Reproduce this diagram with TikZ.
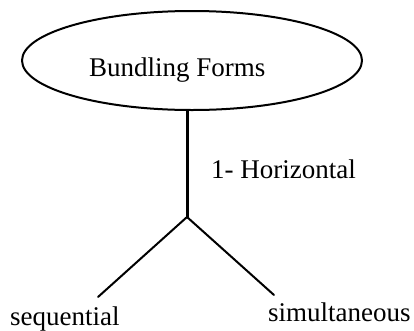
\documentclass[tikz,border=0pt]{standalone}
\usepackage{fontspec}
\setmainfont{Liberation Serif}
\usepackage{tikz}
\usetikzlibrary{shapes.geometric,positioning}
\tikzset{
  formtext/.style={font=\fontsize{27}{32}\selectfont,inner sep=0pt,anchor=base west},
  formline/.style={line width=2pt},
}

\begin{document}
\begin{tikzpicture}[x=1pt,y=-1pt,line cap=round,line join=round]
 \useasboundingbox (0,0) rectangle (414,330);
 \node[ellipse,draw,formline,minimum width=340pt,minimum height=99pt,inner sep=0pt]
  (root) at (192,60.5) {};
 \node[formtext] (rootlabel) at (89,76) {Bundling Forms};
 \coordinate (fork) at (187,217);
 \coordinate (seqend) at (98,297);
 \coordinate (simend) at (274,295);
 \draw[line width=3pt] (root.south -| fork) -- (fork);
 \node[formtext] (horiz) at (211,178) {1- Horizontal};
 \draw[formline] (fork) -- (seqend);
 \draw[formline] (fork) -- (simend);
 \node[formtext] (seq) at (10,325) {sequential};
 \node[formtext] (sim) at (268,321.5) {simultaneous};
\end{tikzpicture}
\end{document}
